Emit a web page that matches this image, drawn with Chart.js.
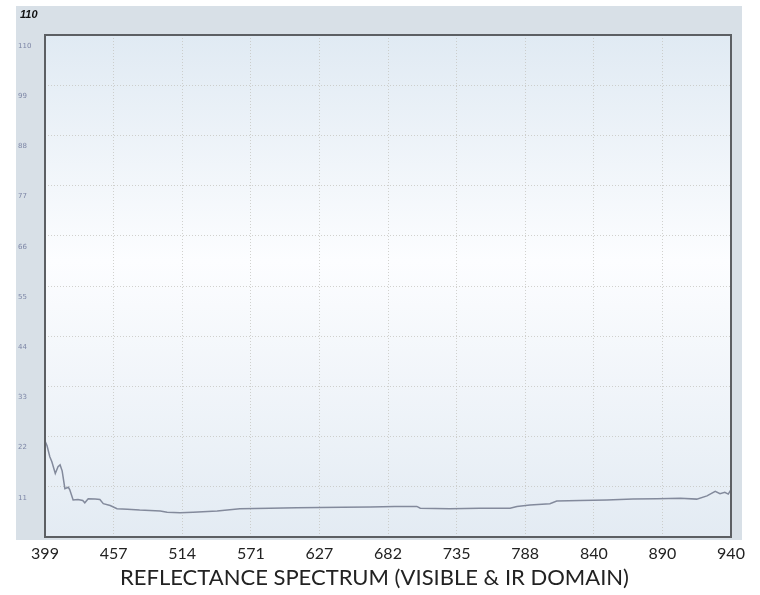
<!DOCTYPE html>
<html>
<head>
<meta charset="utf-8">
<script src="https://cdn.jsdelivr.net/npm/chart.js@4/dist/chart.umd.min.js"></script>
<style>
  html, body { margin: 0; padding: 0; background: #ffffff; }
  canvas { display: block; }
</style>
</head>
<body>
<canvas id="spectrumCanvas" width="760" height="595"></canvas>
<script>
// sample position along the detector (0..1000)
const samplePos = [0, 3, 7, 10, 15, 19, 22, 25, 29, 34, 36, 41, 48, 55, 58, 63, 73, 80, 85, 95,
    105, 120, 138, 168, 178, 197, 216, 251, 284, 328, 367, 434, 474, 510, 542, 547, 590, 634,
    678, 688, 707, 736, 746, 780, 819, 857, 892, 926, 950, 965, 977, 984, 991, 996, 1000];
// reflectance (%)
const reflectance = [21.0, 20.0, 17.6, 16.5, 13.9, 15.4, 15.8, 14.5, 10.6, 10.9, 10.4, 8.1, 8.2, 8.0, 7.5, 8.4, 8.3, 8.2, 7.3, 6.9,
    6.2, 6.1, 5.9, 5.7, 5.4, 5.3, 5.4, 5.7, 6.2, 6.3, 6.4, 6.5, 6.6, 6.7, 6.7, 6.3, 6.2, 6.3,
    6.3, 6.7, 7.0, 7.3, 7.9, 8.0, 8.1, 8.3, 8.4, 8.5, 8.3, 9.0, 10.0, 9.5, 9.8, 9.4, 10.4];
// wavelength labels (nm) under each vertical grid line
const xTickLabels = ['399', '457', '514', '571', '627', '682', '735', '788', '840', '890', '940'];
const yMax = 110;
const yStep = 11;

const points = samplePos.map((p, i) => ({ x: p, y: reflectance[i] }));

// panel + plot background, plot frame, corner label
const panelPlugin = {
    id: 'panelPlugin',
    beforeDraw(chart) {
        const ctx = chart.ctx;
        const a = chart.chartArea;
        ctx.save();
        ctx.fillStyle = '#ffffff';
        ctx.fillRect(0, 0, chart.width, chart.height);
        ctx.fillStyle = '#d8e0e7';
        ctx.fillRect(16, 6, 726, 534);
        const g = ctx.createLinearGradient(0, a.top, 0, a.bottom);
        g.addColorStop(0, '#e0eaf3');
        g.addColorStop(0.45, '#fcfdff');
        g.addColorStop(1, '#e3ebf3');
        ctx.fillStyle = g;
        ctx.fillRect(a.left, a.top, a.right - a.left, a.bottom - a.top);
        ctx.restore();
    },
    afterDraw(chart) {
        const ctx = chart.ctx;
        const a = chart.chartArea;
        ctx.save();
        ctx.strokeStyle = '#5c5f63';
        ctx.lineWidth = 2;
        ctx.strokeRect(a.left, a.top, a.right - a.left, a.bottom - a.top);
        ctx.fillStyle = '#111111';
        ctx.font = 'bold italic 11px "Liberation Sans"';
        ctx.textBaseline = 'alphabetic';
        ctx.fillText(String(yMax), 20, 18);
        ctx.restore();
    }
};

const ctx = document.getElementById('spectrumCanvas').getContext('2d');

new Chart(ctx, {
    type: 'line',
    data: {
        datasets: [{
            label: 'Reflectance',
            data: points,
            borderColor: '#838a9c',
            borderWidth: 1.5,
            pointRadius: 0,
            tension: 0,
            fill: false
        }]
    },
    options: {
        responsive: false,
        animation: false,
        devicePixelRatio: 1,
        layout: {
            padding: { left: 18, right: 29, top: 35, bottom: 4 }
        },
        plugins: {
            legend: { display: false },
            tooltip: { enabled: false },
            title: {
                display: true,
                position: 'bottom',
                text: 'REFLECTANCE SPECTRUM (VISIBLE & IR DOMAIN)',
                color: '#222222',
                font: { family: 'Lato', size: 22, weight: 'normal' },
                padding: { top: 0, bottom: 0 }
            }
        },
        scales: {
            x: {
                type: 'linear',
                min: 0,
                max: 1000,
                border: { display: false, dash: [1, 2] },
                grid: {
                    color: 'rgba(195, 195, 190, 0.75)',
                    drawTicks: false
                },
                afterFit: s => { s.height = 27.6; },
                ticks: {
                    stepSize: 100,
                    padding: 7,
                    maxRotation: 0,
                    color: '#222222',
                    font: { family: 'Lato', size: 16 },
                    callback: v => xTickLabels[Math.round(v / 100)]
                }
            },
            y: {
                min: 0,
                max: yMax,
                border: { display: false, dash: [1, 2] },
                grid: {
                    color: 'rgba(195, 195, 190, 0.75)',
                    drawTicks: false
                },
                afterFit: s => { s.width = 27; },
                ticks: {
                    stepSize: yStep,
                    labelOffset: 11,
                    crossAlign: 'far',
                    padding: 0,
                    color: '#7d86a6',
                    font: { family: 'DejaVu Sans', size: 7 },
                    callback: v => v === 0 ? '' : v
                }
            }
        }
    },
    plugins: [panelPlugin]
});
</script>
</body>
</html>
